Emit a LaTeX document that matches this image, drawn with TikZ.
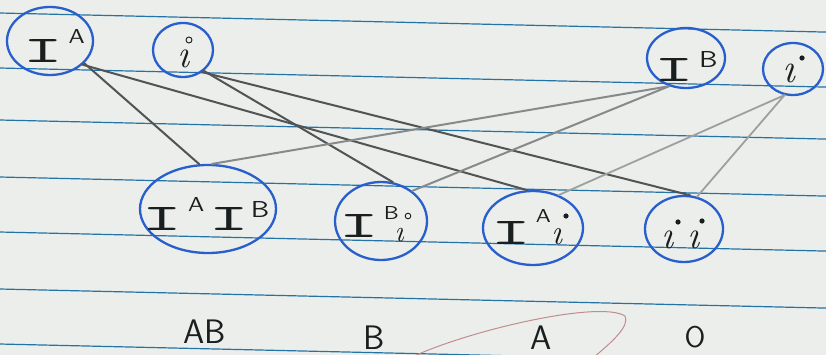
\documentclass[tikz,border=0pt]{standalone}
\usepackage{fontspec}
\usepackage{graphicx}
\usetikzlibrary{shapes.geometric}
\definecolor{paper}{RGB}{235,238,235}
\definecolor{rule}{RGB}{35,115,165}
\definecolor{ink}{RGB}{40,95,205}
\definecolor{pencil}{RGB}{80,84,84}
\definecolor{pencillight}{RGB}{135,138,138}
\definecolor{pencilpale}{RGB}{158,160,160}
\definecolor{redpencil}{RGB}{195,140,140}
\definecolor{lead}{RGB}{25,30,30}
\newcommand\Ibig{\resizebox{!}{23pt}{\scalebox{2.0}[1]{\ttfamily I}}}
\newcommand\upr[3]{\raisebox{#1}{\resizebox{!}{#2}{\scalebox{1.2}[1]{\sffamily #3}}}}
\tikzset{
  allele/.style={ellipse, draw=ink, line width=2.3pt, inner sep=0pt},
  txt/.style={inner sep=0pt, text=lead},
  itxt/.style={inner sep=0pt, text=lead, font=\itshape\fontsize{#1}{#1}\selectfont},
  label/.style={font=\sffamily\fontsize{34}{38}\selectfont, text=lead, inner sep=0pt},
  dark/.style={draw=pencil, line width=2pt, line cap=round},
  mid/.style={draw=pencillight, line width=2pt, line cap=round},
  pale/.style={draw=pencilpale, line width=1.8pt, line cap=round},
  ruling/.style={draw=rule, line width=1.2pt},
  opendot/.style={draw=lead, line width=0.9pt},
  fulldot/.style={fill=lead}
}
\begin{document}
\begin{tikzpicture}[x=1pt,y=-1pt]
\fill[paper] (0,0) rectangle (826,355);
\useasboundingbox (0,0) rectangle (826,355);
% ruled lines
\foreach \y in {13,68,120,177,232,289,344}
  \draw[ruling] (-5,\y-0.1) -- (831,\y+19.2);
% parents (circles)
\node[allele, minimum width=86pt, minimum height=68pt] (IA) at (50,41) {};
\node[allele, minimum width=60pt, minimum height=54pt] (itop) at (183,50) {};
\node[allele, minimum width=78pt, minimum height=60pt] (IB) at (686,58) {};
\node[allele, minimum width=60pt, minimum height=52pt] (iright) at (793,69) {};
% offspring (circles)
\node[allele, minimum width=136pt, minimum height=88pt] (IAIB) at (208,209) {};
\node[allele, minimum width=92pt, minimum height=78pt] (IBi) at (381,221) {};
\node[allele, minimum width=100pt, minimum height=74pt] (IAi) at (533,228) {};
\node[allele, minimum width=78pt, minimum height=66pt] (ii) at (684,229) {};
% texts
\node[txt] (IAt) at (54,46) {\Ibig\kern6pt\upr{19pt}{14pt}{A}};
\node[itxt=40] (itopt) at (183,59) {\i};
\draw[opendot] (189,40) circle (3pt);
\node[txt] (IBt) at (686,67) {\Ibig\kern5pt\upr{14pt}{16pt}{B}};
\node[itxt=42] (irightt) at (789,73) {\i};
\fill[fulldot] (802,58) circle (2.6pt);
\node[txt] (IAIBt) at (206,214) {\Ibig\kern6pt\upr{19pt}{14pt}{A}\kern5pt\Ibig\kern2pt\upr{13pt}{16pt}{B}};
\node[txt] (IBiI) at (369,222) {\Ibig\kern5pt\upr{18pt}{13pt}{B}};
\node[itxt=30] (IBii) at (399,235) {\i};
\draw[opendot] (408,216) circle (2.8pt);
\node[txt] (IAiI) at (521,227) {\Ibig\kern5pt\upr{21pt}{13pt}{A}};
\node[itxt=36] (IAii) at (557,237) {\i};
\fill[fulldot] (566,216) circle (2.6pt);
\node[itxt=40] (ii1) at (667,240) {\i};
\node[itxt=40] (ii2) at (693,240) {\i};
\fill[fulldot] (678,222) circle (2.6pt);
\fill[fulldot] (702,221) circle (2.6pt);
% connectors
\draw[dark] (IA.-33) -- (IAIB.101);
\draw[dark] (IA.-36) -- (IAi.99);
\draw[dark] (itop.-45) -- (IBi.73);
\draw[dark] (itop.-49) -- (ii.80);
\draw[mid] (IB.-121) -- (IAIB.85);
\draw[mid] (IB.-121) -- (IBi.44);
\draw[pale] (iright.-108) -- (IAi.52);
\draw[pale] (iright.-108) -- (ii.68);
% phenotype labels
\node[label] (pAB) at (205,332) {AB};
\node[label] (pB) at (374,338) {B};
\node[label] (pA) at (541,338) {A};
\node[label, font=\sffamily\fontsize{30}{34}\selectfont] (pO) at (695,337) {O};
% faint red pencil mark
\draw[redpencil, line width=1pt] (412,357) .. controls (470,330) and (600,300) .. (625,316)
  .. controls (630,326) and (612,342) .. (594,357);
\end{tikzpicture}
\end{document}
